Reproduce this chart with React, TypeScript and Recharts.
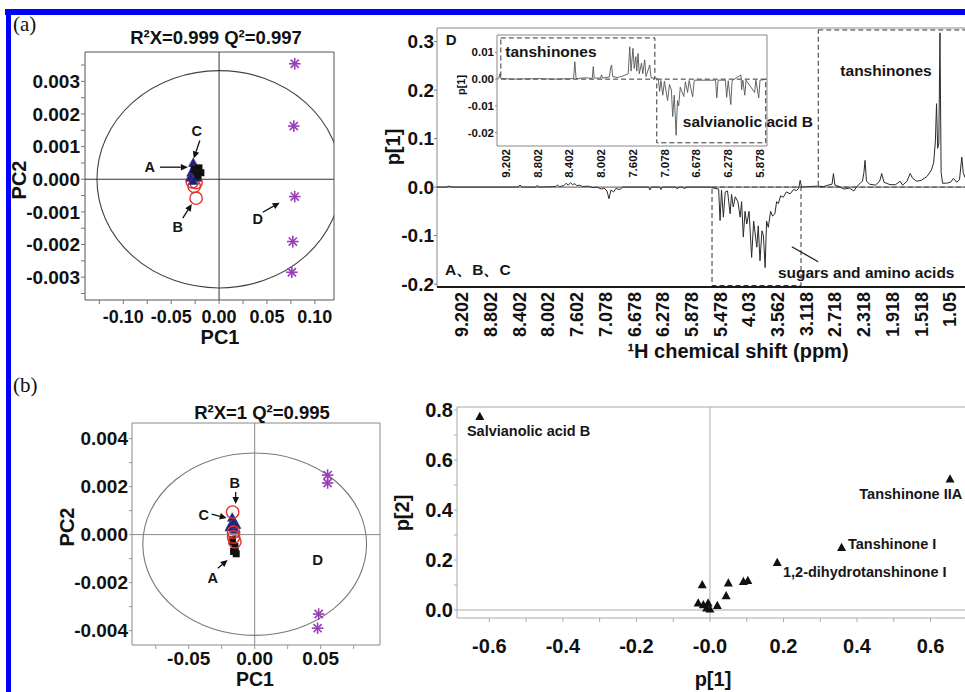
import React from "react";
import {
  ComposedChart,
  ScatterChart,
  Scatter,
  Line,
  XAxis,
  YAxis,
  ReferenceArea,
  ReferenceLine,
  ReferenceDot,
} from "recharts";

const FONT = "'Liberation Sans', Arial, Helvetica, sans-serif";
const SERIF = "'Liberation Serif', 'Times New Roman', serif";

// ---------- (a) PCA scores ----------
const aScoresA: [number, number][] = [
  [-0.021, 0.00035], [-0.024, 0.00025], [-0.019, 0.0002], [-0.022, 0.0001], [-0.026, 0.0003],
];
const aScoresB: [number, number][] = [
  [-0.026, -0.00022], [-0.024, -0.00058], [-0.028, -0.00008], [-0.024, -0.0001],
];
const aScoresC: [number, number][] = [
  [-0.027, 0.0005], [-0.029, 0.0002], [-0.025, 0.00015], [-0.03, 0.00005], [-0.023, 0.00005], [-0.027, -0.00005],
];
const aScoresD: [number, number][] = [
  [0.079, 0.00354], [0.078, 0.00163], [0.079, -0.00053], [0.077, -0.00191], [0.076, -0.00285],
];
const aXTicks = [-0.125, -0.1, -0.075, -0.05, -0.025, 0, 0.025, 0.05, 0.075, 0.1];
const aXMajor = [-0.1, -0.05, 0, 0.05, 0.1];
const aXLabels = ["-0.10", "-0.05", "0.00", "0.05", "0.10"];
const aYTicks = [-0.0035, -0.003, -0.0025, -0.002, -0.0015, -0.001, -0.0005, 0, 0.0005, 0.001, 0.0015, 0.002, 0.0025, 0.003, 0.0035];
const aYMajor = [-0.003, -0.002, -0.001, 0, 0.001, 0.002, 0.003];
const aYLabels = ["-0.003", "-0.002", "-0.001", "0.000", "0.001", "0.002", "0.003"];

// ---------- (a) loading spectrum p[1] (bucket position, value) ----------
const nmrTicks = [10, 20, 30, 40, 50, 60, 70, 80, 90, 100, 110, 120, 130, 140, 150, 160, 170, 180];
const nmrLabels = ["9.202", "8.802", "8.402", "8.002", "7.602", "7.078", "6.678", "6.278", "5.878", "5.478", "4.03", "3.562", "3.118", "2.718", "2.318", "1.918", "1.518", "1.05"];
const nmrYTicks = [-0.2, -0.1, 0, 0.1, 0.2, 0.3];
const nmrYLabels = ["-0.2", "-0.1", "0.0", "0.1", "0.2", "0.3"];
const spectrum: [number, number][] = [
  [1.3, 0], [4.5, 0], [5.5, 0.002], [6.5, 0], [29.5, 0], [30.2, 0.004], [31, 0], [35.5, 0], [36.2, 0.003], [37, 0],
  [42.5, 0.001], [43.3, 0.004], [44, 0.001], [45.5, 0.003], [46.3, 0.008], [47, 0.004], [47.8, 0.009], [48.5, 0.005],
  [49.3, 0.007], [50, 0.003], [51, 0.004], [52, 0.001], [54, 0.002], [55.5, -0.001], [57, 0], [58.5, -0.004],
  [59.5, -0.002], [60.5, -0.008], [61.2, -0.024], [61.9, -0.006], [62.8, -0.01], [63.6, -0.003], [65, -0.005], [66, 0],
  [75, 0], [75.5, -0.006], [76, 0], [78.8, 0], [79.3, -0.005], [79.8, 0], [84.5, 0], [85, -0.004], [85.5, 0],
  [87, 0], [87.5, -0.004], [88, 0], [96.5, 0],
  [97.5, -0.002], [99.4, -0.004], [99.9, -0.069], [100.4, -0.006], [101.05, -0.062], [101.7, -0.01], [102.5, -0.008],
  [103.4, -0.055], [103.9, -0.015], [104.5, -0.041], [105.2, -0.02], [106.1, -0.03], [106.9, -0.062], [107.4, -0.03],
  [108, -0.103], [108.6, -0.05], [109.2, -0.076], [110, -0.05], [110.9, -0.145], [111.6, -0.07], [112.7, -0.124],
  [113.2, -0.08], [113.8, -0.152], [114.5, -0.09], [115, -0.1], [115.6, -0.166], [116.1, -0.07], [116.7, -0.083],
  [117.5, -0.05], [118.2, -0.06], [119, -0.055], [119.6, -0.03], [120.2, -0.034], [121, -0.018], [121.9, -0.021],
  [123, -0.01], [124.3, -0.014], [125.5, -0.005], [126.6, -0.007], [127.3, -0.002], [127.8, 0.014], [128.3, 0],
  [131, 0.001], [133.6, 0.002], [135.9, 0.001], [137.5, 0.004], [138.9, 0.006], [139.4, 0.028], [139.9, 0.004],
  [141, 0.002], [143, -0.004], [145, -0.002], [146.5, -0.008], [147.5, 0.001], [148.7, 0.008], [149.5, 0.012],
  [150, 0.03], [150.4, 0.055], [150.9, 0.012], [152, 0.006], [154, 0.004], [155.5, 0.012], [156.2, 0.028], [157, 0.01],
  [159.1, 0.005], [161, 0.005], [162.6, 0.012], [163.5, 0.004], [165, 0.012], [166.1, 0.028], [167, 0.018],
  [168.4, 0.012], [170, 0.014], [172, 0.022], [173.5, 0.035], [174.3, 0.05], [174.9, 0.095], [175.3, 0.172],
  [175.7, 0.08], [176.1, 0.09], [176.5, 0.318], [176.9, 0.03], [177.4, 0.008], [178.8, 0.008], [180.2, 0.01],
  [181.2, 0.018], [182.3, 0.01], [183.3, 0.015], [184.1, 0.062], [184.6, 0.03], [185.2, 0.02], [186.5, 0.018],
  [188.7, 0.015],
];

// ---------- inset: aromatic region of D ----------
const insetTicks = [10, 20, 30, 40, 50, 60, 70, 80, 90];
const insetLabels = ["9.202", "8.802", "8.402", "8.002", "7.602", "7.078", "6.678", "6.278", "5.878"];
const insetYTicks = [-0.02, -0.01, 0, 0.01];
const insetYLabels = ["-0.02", "-0.01", "0.00", "0.01"];
const insetSpectrum: [number, number][] = [
  [7.2, 0], [7.8, 0.0004], [8.1, 0.002], [8.4, 0.0003], [12, 0], [20, 0.0002], [25, 0], [31.3, 0.0002],
  [31.7, 0.0065], [32.1, 0.0002], [35, 0.0005], [37.2, 0.0003], [37.5, 0.0047], [37.8, 0.0004], [39.8, 0.0004],
  [40.1, 0.0016], [40.4, 0.0004], [42.6, 0.0008], [43, 0.0045], [43.3, 0.0053], [43.6, 0.001], [45, 0.0006],
  [46.5, 0.001], [48.5, 0.002], [49, 0.0121], [49.4, 0.003], [50, 0.0115], [50.4, 0.004], [50.9, 0.0084],
  [51.2, 0.003], [51.6, 0.0096], [52, 0.002], [52.7, 0.006], [53.1, 0.002], [53.7, 0.0072], [54.1, 0.001],
  [55.3, 0.0053], [55.7, 0.0005], [57.6, 0.0003], [58, -0.0003], [58.4, -0.0046], [58.8, -0.0005], [59.4, -0.006],
  [59.9, -0.0008], [60.9, -0.008], [61.5, -0.002], [62.1, -0.004], [62.5, -0.014], [63, -0.006], [63.6, -0.021],
  [64, -0.008], [64.4, -0.01], [64.9, -0.003], [66, -0.0065], [66.5, -0.001], [67.2, -0.005], [67.7, -0.0005],
  [68.8, -0.0066], [69.3, -0.0004], [76, -0.0004], [76.4, -0.007], [76.8, -0.0004], [79.1, -0.0004], [79.5, -0.0068],
  [80, -0.0006], [80.8, -0.0095], [81.2, -0.0006], [84, 0.0016], [84.2, -0.004], [84.6, -0.0004], [85.2, -0.006],
  [85.6, -0.0004], [88.3, -0.005], [88.7, -0.0004], [89.6, -0.007], [90, -0.0004], [92.2, 0],
];

// ---------- (b) PCA scores ----------
const bScoresA: [number, number][] = [
  [-0.017, -0.0003], [-0.015, -0.0005], [-0.016, -0.0007], [-0.014, -0.0008], [-0.017, -0.0002], [-0.015, -0.00065],
];
const bScoresB: [number, number][] = [[-0.0167, 0.00094], [-0.016, -0.0001], [-0.015, -0.0003], [-0.016, 0.0001]];
const bScoresC: [number, number][] = [
  [-0.017, 0.0007], [-0.018, 0.0004], [-0.016, 0.0005], [-0.015, 0.0002], [-0.019, 0.0003], [-0.014, 0.0004],
];
const bScoresD: [number, number][] = [[0.0553, 0.00248], [0.0553, 0.00215], [0.0485, -0.00331], [0.0477, -0.0039]];
const bXTicks = [-0.075, -0.05, -0.025, 0, 0.025, 0.05, 0.075];
const bXMajor = [-0.05, 0, 0.05];
const bXLabels = ["-0.05", "0.00", "0.05"];
const bYTicks = [-0.004, -0.003, -0.002, -0.001, 0, 0.001, 0.002, 0.003, 0.004];
const bYMajor = [-0.004, -0.002, 0, 0.002, 0.004];
const bYLabels = ["-0.004", "-0.002", "0.000", "0.002", "0.004"];

// ---------- (b) loadings p[1] vs p[2] ----------
const loadings: [number, number][] = [
  [-0.626, 0.773], [0.653, 0.523], [0.358, 0.249], [0.183, 0.189],
  [-0.021, 0.1], [0.05, 0.107], [0.091, 0.113], [0.103, 0.117], [0.044, 0.056],
  [-0.032, 0.027], [-0.018, 0.02], [-0.005, 0.027], [-0.009, 0.007], [0.0, 0.003], [0.02, 0.017],
];
const loadXTicks = [-0.6, -0.5, -0.4, -0.3, -0.2, -0.1, 0, 0.1, 0.2, 0.3, 0.4, 0.5, 0.6];
const loadXMajor = [-0.6, -0.4, -0.2, 0, 0.2, 0.4, 0.6];
const loadXLabels = ["-0.6", "-0.4", "-0.2", "-0.0", "0.2", "0.4", "0.6"];
const loadYTicks = [0, 0.1, 0.2, 0.3, 0.4, 0.5, 0.6, 0.7, 0.8];
const loadYMajor = [0, 0.2, 0.4, 0.6, 0.8];
const loadYLabels = ["0.0", "0.2", "0.4", "0.6", "0.8"];

const pts = (a: [number, number][]) => a.map(([x, y]) => ({ x, y }));

function fmt(major: number[], labels: string[]) {
  return (v: number) => {
    const i = major.findIndex((m) => Math.abs(m - v) < 1e-9);
    return i >= 0 ? labels[i] : "";
  };
}

const tickStyle = (size: number) => ({ fontFamily: FONT, fontWeight: 700, fontSize: size, fill: "#111" });

function RotTick(props: any) {
  const { x, y, payload, ticks, labels, size } = props;
  const i = ticks.findIndex((t: number) => Math.abs(t - payload.value) < 1e-9);
  return (
    <text x={x} y={y} dy="0.35em" textAnchor="end" transform={`rotate(-90 ${x} ${y})`}
      fontFamily={FONT} fontWeight={700} fontSize={size} fill="#111">
      {i >= 0 ? labels[i] : ""}
    </text>
  );
}

// marker shapes
const squareShape = (p: any) => <rect x={p.cx - 3.5} y={p.cy - 3.5} width={7} height={7} fill="#111" />;
const triShape = (p: any) => (
  <path d={`M${p.cx},${p.cy - 5}L${p.cx + 4.6},${p.cy + 3.5}L${p.cx - 4.6},${p.cy + 3.5}Z`} fill="#232070" stroke="#3a3a9a" strokeWidth={0.8} />
);
const blackTri = (p: any) => (
  <path d={`M${p.cx},${p.cy - 5}L${p.cx + 4.5},${p.cy + 3.2}L${p.cx - 4.5},${p.cy + 3.2}Z`} fill="#111" />
);
const ringShape = (p: any) => <circle cx={p.cx} cy={p.cy} r={6.2} fill="none" stroke="#e2342c" strokeWidth={1.4} />;
const starShape = (p: any) => {
  const r = 5.8;
  const d = r * 0.707;
  return (
    <g stroke="#9a3db8" strokeWidth={1.6}>
      <line x1={p.cx - r} y1={p.cy} x2={p.cx + r} y2={p.cy} />
      <line x1={p.cx} y1={p.cy - r} x2={p.cx} y2={p.cy + r} />
      <line x1={p.cx - d} y1={p.cy - d} x2={p.cx + d} y2={p.cy + d} />
      <line x1={p.cx - d} y1={p.cy + d} x2={p.cx + d} y2={p.cy - d} />
    </g>
  );
};

const arrowShape = (p: any) => {
  const { x1, y1, x2, y2 } = p;
  const a = Math.atan2(y2 - y1, x2 - x1);
  const L = 7;
  const W = 3.3;
  const bx = x2 - L * Math.cos(a);
  const by = y2 - L * Math.sin(a);
  const nx = -Math.sin(a) * W;
  const ny = Math.cos(a) * W;
  return (
    <g>
      <line x1={x1} y1={y1} x2={bx} y2={by} stroke="#111" strokeWidth={1.3} />
      <path d={`M${x2},${y2}L${bx + nx},${by + ny}L${bx - nx},${by - ny}Z`} fill="#111" />
    </g>
  );
};

const ellipseShape = (stroke: string) => (p: any) => (
  <ellipse cx={p.x + p.width / 2} cy={p.y + p.height / 2} rx={Math.abs(p.width) / 2} ry={Math.abs(p.height) / 2}
    fill="none" stroke={stroke} strokeWidth={1.1} clipPath={p.clipPath} />
);

const note = (text: string, size: number, anchor: string = "middle") => (p: any) => (
  <text x={p.cx} y={p.cy} dy="0.35em" textAnchor={anchor} fontFamily={FONT} fontWeight={700} fontSize={size} fill="#161616">
    {text}
  </text>
);

const rot = (x: number, y: number, text: string, size: number) => (
  <text x={x} y={y} dy="0.35em" textAnchor="middle" transform={`rotate(-90 ${x} ${y})`}
    fontFamily={FONT} fontWeight={700} fontSize={size} fill="#111">{text}</text>
);

function ScoreA() {
  return (
    <ScatterChart width={340} height={350} margin={{ top: 52, right: 6, bottom: 0, left: 0 }}>
      <XAxis type="number" dataKey="x" domain={[-0.14, 0.12]} ticks={aXTicks} interval={0}
        tickFormatter={fmt(aXMajor, aXLabels)} tick={tickStyle(18)} tickSize={4} tickMargin={6}
        axisLine={false} tickLine={{ stroke: "#777" }} height={50} />
      <YAxis type="number" dataKey="y" domain={[-0.0037, 0.0039]} ticks={aYTicks} interval={0}
        tickFormatter={fmt(aYMajor, aYLabels)} tick={tickStyle(19)} tickSize={4} tickMargin={1}
        axisLine={false} tickLine={{ stroke: "#777" }} width={85} />
      <ReferenceArea x1={-0.14} x2={0.12} y1={-0.0037} y2={0.0039} fill="none" stroke="#555" ifOverflow="visible" />
      <ReferenceArea x1={-0.1275} x2={0.1275} y1={-0.00333} y2={0.00333} ifOverflow="hidden" shape={ellipseShape("#444")} />
      <ReferenceLine x={0} stroke="#333" />
      <ReferenceLine y={0} stroke="#333" />
      <Scatter data={pts(aScoresB)} shape={ringShape} isAnimationActive={false} />
      <Scatter data={pts(aScoresC)} shape={triShape} isAnimationActive={false} />
      <Scatter data={pts(aScoresA)} shape={squareShape} isAnimationActive={false} />
      <Scatter data={pts(aScoresD)} shape={starShape} isAnimationActive={false} />
      <ReferenceDot x={-0.0723} y={0.00037} shape={note("A", 14.5)} ifOverflow="visible" />
      <ReferenceLine segment={[{ x: -0.0617, y: 0.00037 }, { x: -0.0326, y: 0.00037 }]} shape={arrowShape} ifOverflow="visible" />
      <ReferenceDot x={-0.0233} y={0.00147} shape={note("C", 14.5)} ifOverflow="visible" />
      <ReferenceLine segment={[{ x: -0.0201, y: 0.00119 }, { x: -0.0264, y: 0.00064 }]} shape={arrowShape} ifOverflow="visible" />
      <ReferenceDot x={-0.0431} y={-0.00147} shape={note("B", 14.5)} ifOverflow="visible" />
      <ReferenceLine segment={[{ x: -0.0379, y: -0.00119 }, { x: -0.0285, y: -0.00076 }]} shape={arrowShape} ifOverflow="visible" />
      <ReferenceDot x={0.0404} y={-0.00122} shape={note("D", 14.5)} ifOverflow="visible" />
      <ReferenceLine segment={[{ x: 0.0456, y: -0.00101 }, { x: 0.0633, y: -0.00072 }]} shape={arrowShape} ifOverflow="visible" />
    </ScatterChart>
  );
}

function SpectrumA() {
  return (
    <ComposedChart width={600} height={365} data={spectrum.map(([k, p]) => ({ k, p }))}
      margin={{ top: 28, right: 5, bottom: 0, left: 0 }}>
      <XAxis type="number" dataKey="k" domain={[1.3, 188.7]} ticks={nmrTicks} interval={0}
        tick={<RotTick ticks={nmrTicks} labels={nmrLabels} size={18} />} tickSize={0} tickMargin={5}
        axisLine={{ stroke: "#1a1a1a", strokeWidth: 2 }} tickLine={false} height={78} />
      <YAxis type="number" domain={[-0.206, 0.328]} ticks={nmrYTicks} interval={0}
        tickFormatter={fmt(nmrYTicks, nmrYLabels)} tick={tickStyle(19)} tickSize={3} tickMargin={0}
        axisLine={false} tickLine={{ stroke: "#777" }} width={57} />
      <ReferenceArea x1={1.3} x2={188.7} y1={-0.206} y2={0.328} fill="none" stroke="#8a8a8a" ifOverflow="visible" />
      <ReferenceArea x1={134.1} x2={188.7} y1={0} y2={0.324} fill="none" stroke="#333" strokeDasharray="5 3" ifOverflow="visible" />
      <ReferenceArea x1={97.1} x2={128.1} y1={-0.203} y2={0} fill="none" stroke="#333" strokeDasharray="5 3" ifOverflow="visible" />
      <ReferenceLine y={0} stroke="#555" />
      <Line type="linear" dataKey="p" stroke="#2a2a2a" strokeWidth={1} dot={false} isAnimationActive={false} />
      <ReferenceDot x={6.2} y={0.303} shape={note("D", 15)} ifOverflow="visible" />
      <ReferenceDot x={4.1} y={-0.171} shape={note("A、B、C", 15.5, "start")} ifOverflow="visible" />
      <ReferenceDot x={157.7} y={0.241} shape={note("tanshinones", 15.5)} ifOverflow="visible" />
      <ReferenceDot x={150.8} y={-0.177} shape={note("sugars and amino acids", 15.5)} ifOverflow="visible" />
      <ReferenceLine segment={[{ x: 124.9, y: -0.123 }, { x: 134.1, y: -0.154 }]} stroke="#222" strokeWidth={1.3} ifOverflow="visible" />
    </ComposedChart>
  );
}

function InsetA() {
  return (
    <ComposedChart width={390} height={156} data={insetSpectrum.map(([k, p]) => ({ k, p }))}
      margin={{ top: 5, right: 63, bottom: 0, left: 0 }}>
      <XAxis type="number" dataKey="k" domain={[7.2, 92.2]} ticks={insetTicks} interval={0}
        tick={<RotTick ticks={insetTicks} labels={insetLabels} size={11.5} />} tickSize={0} tickMargin={3}
        axisLine={false} tickLine={false} height={40} />
      <YAxis type="number" domain={[-0.025, 0.0165]} ticks={insetYTicks} interval={0}
        tickFormatter={fmt(insetYTicks, insetYLabels)} tick={tickStyle(11.5)} tickSize={2} tickMargin={1}
        axisLine={false} tickLine={{ stroke: "#888" }} width={57} />
      <ReferenceArea x1={7.2} x2={92.2} y1={-0.025} y2={0.0165} fill="#fff" fillOpacity={1} stroke="#888" ifOverflow="visible" />
      <ReferenceArea x1={8.4} x2={56.9} y1={0} y2={0.0154} fill="none" stroke="#333" strokeDasharray="5 3" ifOverflow="visible" />
      <ReferenceArea x1={57.5} x2={91.8} y1={-0.0238} y2={0} fill="none" stroke="#333" strokeDasharray="5 3" ifOverflow="visible" />
      <Line type="linear" dataKey="p" stroke="#555" strokeWidth={0.9} dot={false} isAnimationActive={false} />
      <ReferenceDot x={9.8} y={0.0102} shape={note("tanshinones", 15.5, "start")} ifOverflow="visible" />
      <ReferenceDot x={65.7} y={-0.0159} shape={note("salvianolic acid B", 15.5, "start")} ifOverflow="visible" />
    </ComposedChart>
  );
}

function ScoreB() {
  return (
    <ScatterChart width={385} height={312} margin={{ top: 43, right: 5, bottom: 0, left: 0 }}>
      <XAxis type="number" dataKey="x" domain={[-0.093, 0.095]} ticks={bXTicks} interval={0}
        tickFormatter={fmt(bXMajor, bXLabels)} tick={tickStyle(19)} tickSize={4} tickMargin={3}
        axisLine={false} tickLine={{ stroke: "#999" }} height={47} />
      <YAxis type="number" dataKey="y" domain={[-0.0046, 0.00465]} ticks={bYTicks} interval={0}
        tickFormatter={fmt(bYMajor, bYLabels)} tick={tickStyle(19)} tickSize={3} tickMargin={1}
        axisLine={false} tickLine={{ stroke: "#999" }} width={132} />
      <ReferenceArea x1={-0.093} x2={0.095} y1={-0.0046} y2={0.00465} fill="none" stroke="#888" ifOverflow="visible" />
      <ReferenceArea x1={-0.0848} x2={0.0848} y1={-0.0042} y2={0.0034} ifOverflow="hidden" shape={ellipseShape("#777")} />
      <ReferenceLine x={0} stroke="#888" />
      <ReferenceLine y={0} stroke="#888" />
      <Scatter data={pts(bScoresA)} shape={squareShape} isAnimationActive={false} />
      <Scatter data={pts(bScoresC)} shape={triShape} isAnimationActive={false} />
      <Scatter data={pts(bScoresB)} shape={ringShape} isAnimationActive={false} />
      <Scatter data={pts(bScoresD)} shape={starShape} isAnimationActive={false} />
      <ReferenceDot x={-0.0152} y={0.00215} shape={note("B", 14.5)} ifOverflow="visible" />
      <ReferenceLine segment={[{ x: -0.0144, y: 0.00178 }, { x: -0.0144, y: 0.00128 }]} shape={arrowShape} ifOverflow="visible" />
      <ReferenceDot x={-0.0386} y={0.00081} shape={note("C", 14.5)} ifOverflow="visible" />
      <ReferenceLine segment={[{ x: -0.0326, y: 0.00085 }, { x: -0.0212, y: 0.00069 }]} shape={arrowShape} ifOverflow="visible" />
      <ReferenceDot x={-0.0318} y={-0.00181} shape={note("A", 14.5)} ifOverflow="visible" />
      <ReferenceLine segment={[{ x: -0.028, y: -0.0014 }, { x: -0.0205, y: -0.00106 }]} shape={arrowShape} ifOverflow="visible" />
      <ReferenceDot x={0.0477} y={-0.00106} shape={note("D", 15)} ifOverflow="visible" />
    </ScatterChart>
  );
}

function LoadingB() {
  return (
    <ScatterChart width={590} height={312} margin={{ top: 27, right: 4, bottom: 0, left: 0 }}>
      <XAxis type="number" dataKey="x" domain={[-0.688, 0.71]} ticks={loadXTicks} interval={0}
        tickFormatter={fmt(loadXMajor, loadXLabels)} tick={tickStyle(20)} tickSize={4} tickMargin={17}
        axisLine={false} tickLine={{ stroke: "#aaa" }} height={74} />
      <YAxis type="number" dataKey="y" domain={[-0.032, 0.812]} ticks={loadYTicks} interval={0}
        tickFormatter={fmt(loadYMajor, loadYLabels)} tick={tickStyle(20)} tickSize={3} tickMargin={1}
        axisLine={false} tickLine={{ stroke: "#aaa" }} width={72} />
      <ReferenceArea x1={-0.688} x2={0.71} y1={-0.032} y2={0.812} fill="none" stroke="#a8a8a8" ifOverflow="visible" />
      <ReferenceLine x={0} stroke="#aaa" />
      <ReferenceLine y={0} stroke="#aaa" />
      <Scatter data={pts(loadings)} shape={blackTri} isAnimationActive={false} />
      <ReferenceDot x={-0.661} y={0.716} shape={note("Salvianolic acid B", 14.5, "start")} ifOverflow="visible" />
      <ReferenceDot x={0.686} y={0.464} shape={note("Tanshinone IIA", 14.5, "end")} ifOverflow="visible" />
      <ReferenceDot x={0.3755} y={0.264} shape={note("Tanshinone I", 14.5, "start")} ifOverflow="visible" />
      <ReferenceDot x={0.1986} y={0.152} shape={note("1,2-dihydrotanshinone I", 14.5, "start")} ifOverflow="visible" />
    </ScatterChart>
  );
}

export default function App() {
  return (
    <div style={{ position: "absolute", left: 0, top: 0, width: 965, height: 692, overflow: "hidden", background: "#fff" }}>
      <div style={{ position: "absolute", left: 5, top: 9, width: 960, height: 6, background: "#0000ff" }} />
      <div style={{ position: "absolute", left: 6, top: 9, width: 5, height: 683, background: "#0000ff" }} />
      <div style={{ position: "absolute", left: 0, top: 0 }}><ScoreA /></div>
      <div style={{ position: "absolute", left: 380, top: 0 }}><SpectrumA /></div>
      <div style={{ position: "absolute", left: 440, top: 30 }}><InsetA /></div>
      <div style={{ position: "absolute", left: 0, top: 380 }}><ScoreB /></div>
      <div style={{ position: "absolute", left: 385, top: 380 }}><LoadingB /></div>
      <svg width={965} height={692} style={{ position: "absolute", left: 0, top: 0, pointerEvents: "none" }}>
        <text x={13} y={31} fontFamily={SERIF} fontSize={21} fill="#111">(a)</text>
        <text x={13} y={392} fontFamily={SERIF} fontSize={21} fill="#111">(b)</text>
        <text x={216} y={44} textAnchor="middle" fontFamily={FONT} fontWeight={700} fontSize={18.5} fill="#111">R²X=0.999 Q²=0.997</text>
        <text x={262} y={419} textAnchor="middle" fontFamily={FONT} fontWeight={700} fontSize={18.5} fill="#111">R²X=1 Q²=0.995</text>
        <text x={220} y={344} textAnchor="middle" fontFamily={FONT} fontWeight={700} fontSize={20} fill="#111">PC1</text>
        {rot(19, 180, "PC2", 20)}
        {rot(393, 147, "p[1]", 20)}
        <text x={738} y={358} textAnchor="middle" fontFamily={FONT} fontWeight={700} fontSize={20} fill="#111">¹H chemical shift (ppm)</text>
        {rot(461, 85, "p[1]", 11)}
        {rot(67, 527, "PC2", 20)}
        <text x={255} y={686} textAnchor="middle" fontFamily={FONT} fontWeight={700} fontSize={19.5} fill="#111">PC1</text>
        {rot(402, 513, "p[2]", 20)}
        <text x={713} y={686} textAnchor="middle" fontFamily={FONT} fontWeight={700} fontSize={20} fill="#111">p[1]</text>
      </svg>
    </div>
  );
}
